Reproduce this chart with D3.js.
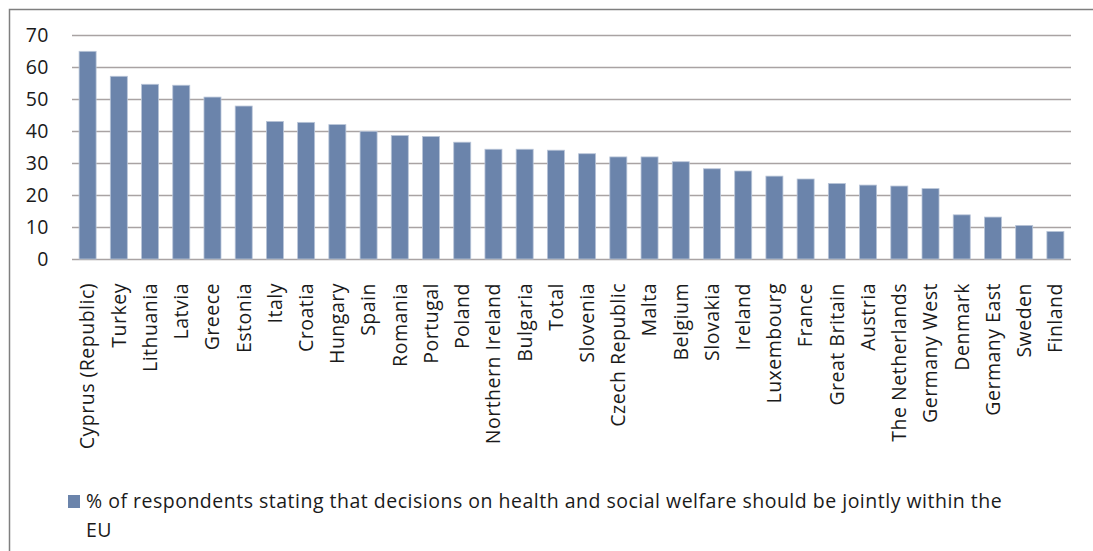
<!DOCTYPE html>
<html>
<head>
<meta charset="utf-8">
<script src="https://cdn.jsdelivr.net/npm/d3@7"></script>
<style>
  html, body { margin: 0; padding: 0; background: #fff; }
  svg { display: block; font-family: "Open Sans", Lato, sans-serif; }
</style>
</head>
<body>
<svg id="chart" width="1093" height="551"></svg>
<script>
// Survey share per country, sorted descending
const categories = [
  "Cyprus (Republic)", "Turkey", "Lithuania", "Latvia", "Greece", "Estonia",
  "Italy", "Croatia", "Hungary", "Spain", "Romania", "Portugal", "Poland",
  "Northern Ireland", "Bulgaria", "Total", "Slovenia", "Czech Republic",
  "Malta", "Belgium", "Slovakia", "Ireland", "Luxembourg", "France",
  "Great Britain", "Austria", "The Netherlands", "Germany West", "Denmark",
  "Germany East", "Sweden", "Finland"
];
const values = [
  64.9, 57.1, 54.6, 54.3, 50.6, 47.8,
  43.0, 42.7, 42.0, 39.9, 38.6, 38.3, 36.5,
  34.3, 34.3, 34.0, 32.9, 31.9,
  31.9, 30.4, 28.2, 27.5, 25.9, 25.0,
  23.6, 23.1, 22.8, 22.0, 13.8,
  13.1, 10.5, 8.6
];
const yTicks = [0, 10, 20, 30, 40, 50, 60, 70];
const seriesName = "% of respondents stating that decisions on health and social welfare should be jointly within the";
const seriesNameLine2 = "EU";

const FONT = "'Open Sans', Lato, sans-serif";
const FONT_SIZE = 19.5;
const LETTER_SPACING = 0.5;
const TEXT_COLOR = "#1a1a1a";

const svg = d3.select("#chart");

// Outer frame of the chart area
svg.append("rect")
  .attr("x", 9.5).attr("y", 9.5)
  .attr("width", 1100).attr("height", 600)
  .attr("fill", "none")
  .attr("stroke", "#7f7f7f")
  .attr("stroke-width", 1.5);

const plot = { left: 72, right: 1071, top: 35, bottom: 259 };

const x = d3.scaleBand()
  .domain(categories)
  .range([plot.left, plot.right])
  .paddingInner(0.455)
  .paddingOuter(0.2275);

const y = d3.scaleLinear()
  .domain([0, 70])
  .range([plot.bottom, plot.top]);

// Horizontal gridlines
svg.append("g")
  .attr("transform", `translate(${plot.left},0)`)
  .call(d3.axisLeft(y).tickValues(yTicks).tickSize(-(plot.right - plot.left)).tickFormat(""))
  .call(g => g.select(".domain").remove())
  .call(g => g.selectAll(".tick line").attr("stroke", "#a9a3a3").attr("stroke-width", 1.3));

// Y tick labels
svg.append("g")
  .attr("transform", `translate(49,0)`)
  .call(d3.axisLeft(y).tickValues(yTicks).tickSize(0).tickPadding(0))
  .call(g => g.select(".domain").remove())
  .call(g => g.selectAll("text")
    .attr("font-family", FONT)
    .attr("font-size", FONT_SIZE)
    .attr("letter-spacing", LETTER_SPACING)
    .attr("fill", TEXT_COLOR));

// Bars
svg.append("g")
  .selectAll("rect")
  .data(categories)
  .join("rect")
  .attr("x", d => x(d))
  .attr("width", x.bandwidth())
  .attr("y", (d, i) => y(values[i]))
  .attr("height", (d, i) => y(0) - y(values[i]))
  .attr("fill", "#6b84ab")
  .attr("stroke", "#b9c5d8")
  .attr("stroke-width", 0.8);

// Category labels, rotated
svg.append("g")
  .attr("transform", `translate(0,${plot.bottom})`)
  .call(d3.axisBottom(x).tickSize(0).tickPadding(0))
  .call(g => g.select(".domain").remove())
  .call(g => g.selectAll("text")
    .attr("font-family", FONT)
    .attr("font-size", FONT_SIZE)
    .attr("letter-spacing", LETTER_SPACING)
    .attr("fill", TEXT_COLOR)
    .attr("text-anchor", "end")
    .attr("dy", "0.35em")
    .attr("transform", "translate(0,24) rotate(-90)")
    .attr("x", 0).attr("y", 0));

// Legend
const legend = svg.append("g")
  .attr("font-family", FONT)
  .attr("font-size", FONT_SIZE)
  .attr("letter-spacing", LETTER_SPACING)
  .attr("fill", TEXT_COLOR);
legend.append("rect")
  .attr("x", 68).attr("y", 495)
  .attr("width", 12).attr("height", 13)
  .attr("fill", "#6b84ab");
legend.append("text")
  .attr("x", 86).attr("y", 508)
  .text(seriesName);
legend.append("text")
  .attr("x", 86).attr("y", 537)
  .text(seriesNameLine2);
</script>
</body>
</html>
